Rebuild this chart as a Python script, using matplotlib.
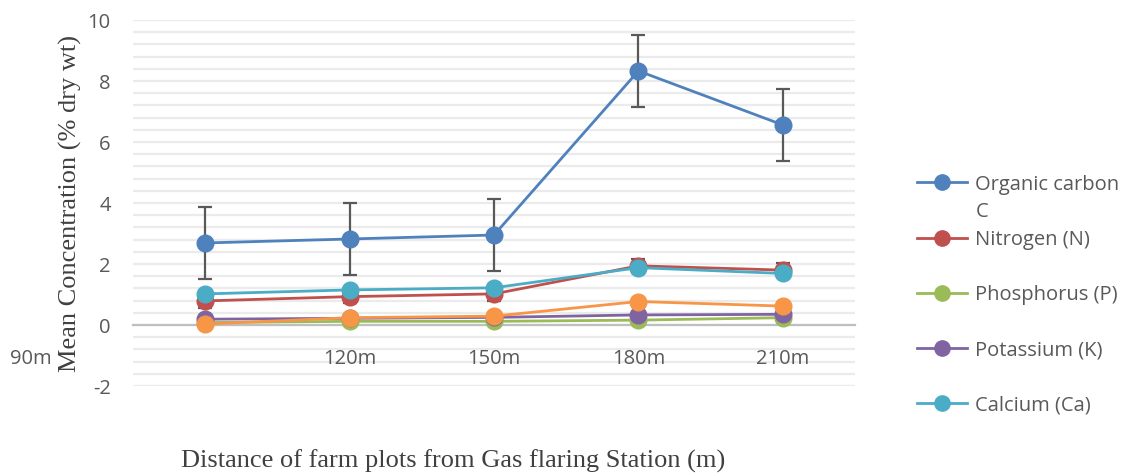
import numpy as np
import matplotlib
matplotlib.use("Agg")
import matplotlib.pyplot as plt
from matplotlib.transforms import ScaledTranslation
from matplotlib.lines import Line2D

categories = ["90m", "120m", "150m", "180m", "210m"]
organic_c = [2.69, 2.82, 2.95, 8.33, 6.56]
organic_c_err = [1.17, 1.17, 1.17, 1.17, 1.17]
nitrogen = [0.79, 0.93, 1.02, 1.94, 1.80]
nitrogen_err = [0.22, 0.22, 0.22, 0.22, 0.22]
phosphorus = [0.08, 0.12, 0.12, 0.16, 0.24]
potassium = [0.19, 0.22, 0.25, 0.33, 0.35]
calcium = [1.02, 1.15, 1.22, 1.88, 1.69]
other = [0.03, 0.24, 0.29, 0.77, 0.62]

legend_labels = ["Organic carbon\nC", "Nitrogen (N)", "Phosphorus (P)", "Potassium (K)", "Calcium (Ca)"]
colors = ["#4F81BD", "#C0504D", "#9BBB59", "#8064A2", "#4BACC6", "#F79646"]

fig = plt.figure(figsize=(11.27, 4.73), dpi=100)
ax = fig.add_axes([133/1127, 1-386/473, (855-133)/1127, (386-20)/473])
x = np.arange(len(categories))

series = [organic_c, nitrogen, phosphorus, potassium, calcium, other]
errs = [organic_c_err, nitrogen_err, None, None, None, None]
for i, (s, c) in enumerate(zip(series, colors)):
    ax.plot(x, s, color=c, lw=2, marker="o", ms=12, zorder=3 + i * 0.1)
    if errs[i] is not None:
        ax.errorbar(x, s, yerr=errs[i], fmt="none", ecolor="#595959", elinewidth=1.6,
                    capsize=5, capthick=1.6, zorder=2.9 + i * 0.1)

ax.set_xlim(-0.5, 4.5)
ax.set_ylim(-2, 10)
ax.set_yticks(np.arange(-2, 10.1, 2))
ax.set_yticklabels([str(v) for v in range(-2, 11, 2)])
ax.set_yticks(np.arange(-2, 10.01, 0.4), minor=True)
ax.grid(axis="y", which="minor", color="#EBEBEB", lw=1.6)
ax.grid(axis="y", which="major", color="#EBEBEB", lw=1.6)
ax.set_axisbelow(True)
ax.xaxis.set_zorder(2.5)
for sp in ["top", "right", "left"]:
    ax.spines[sp].set_visible(False)
ax.spines["bottom"].set_position(("data", 0))
ax.spines["bottom"].set_color("#BFBFBF")
ax.spines["bottom"].set_linewidth(1.6)
ax.spines["bottom"].set_zorder(2.6)
ax.tick_params(axis="both", which="both", length=0)
ax.tick_params(axis="y", pad=16, labelsize=14.5, labelcolor="#595959")
ax.tick_params(axis="x", pad=17, labelsize=14.5, labelcolor="#595959")
ax.set_xticks(x)
ax.set_xticklabels(categories)
for lab in ax.get_xticklabels() + ax.get_yticklabels():
    lab.set_fontfamily("Open Sans")
first = ax.get_xticklabels()[0]
first.set_transform(first.get_transform() + ScaledTranslation(-174/100, 0, fig.dpi_scale_trans))

ax.set_ylabel("Mean Concentration (% dry wt)", fontfamily="Liberation Serif", fontsize=19,
              color="#404040", labelpad=4)
fig.text(453/1127, 12/473, "Distance of farm plots from Gas flaring Station (m)",
         fontfamily="Liberation Serif", fontsize=19, color="#404040", ha="center", va="center")

handles = [Line2D([], [], color=c, lw=2, marker="o", ms=11) for c in colors[:5]]
leg_kw = dict(loc="upper left", frameon=False, prop={"family": "Open Sans", "size": 14.5},
              handlelength=2.5, handletextpad=0.4, labelcolor="#595959", borderpad=0)
leg1 = fig.legend(handles[:1], legend_labels[:1], bbox_to_anchor=(907/1127, 1-165/473), **leg_kw)
leg1.get_texts()[0].set_linespacing(1.45)
for hp in leg1._legend_handle_box.get_children()[0].get_children():
    hp.align = "top"
leg2 = fig.legend(handles[1:], legend_labels[1:], bbox_to_anchor=(907/1127, 1-220/473),
                  labelspacing=1.74, **leg_kw)

fig.savefig("out.png", dpi=100)
